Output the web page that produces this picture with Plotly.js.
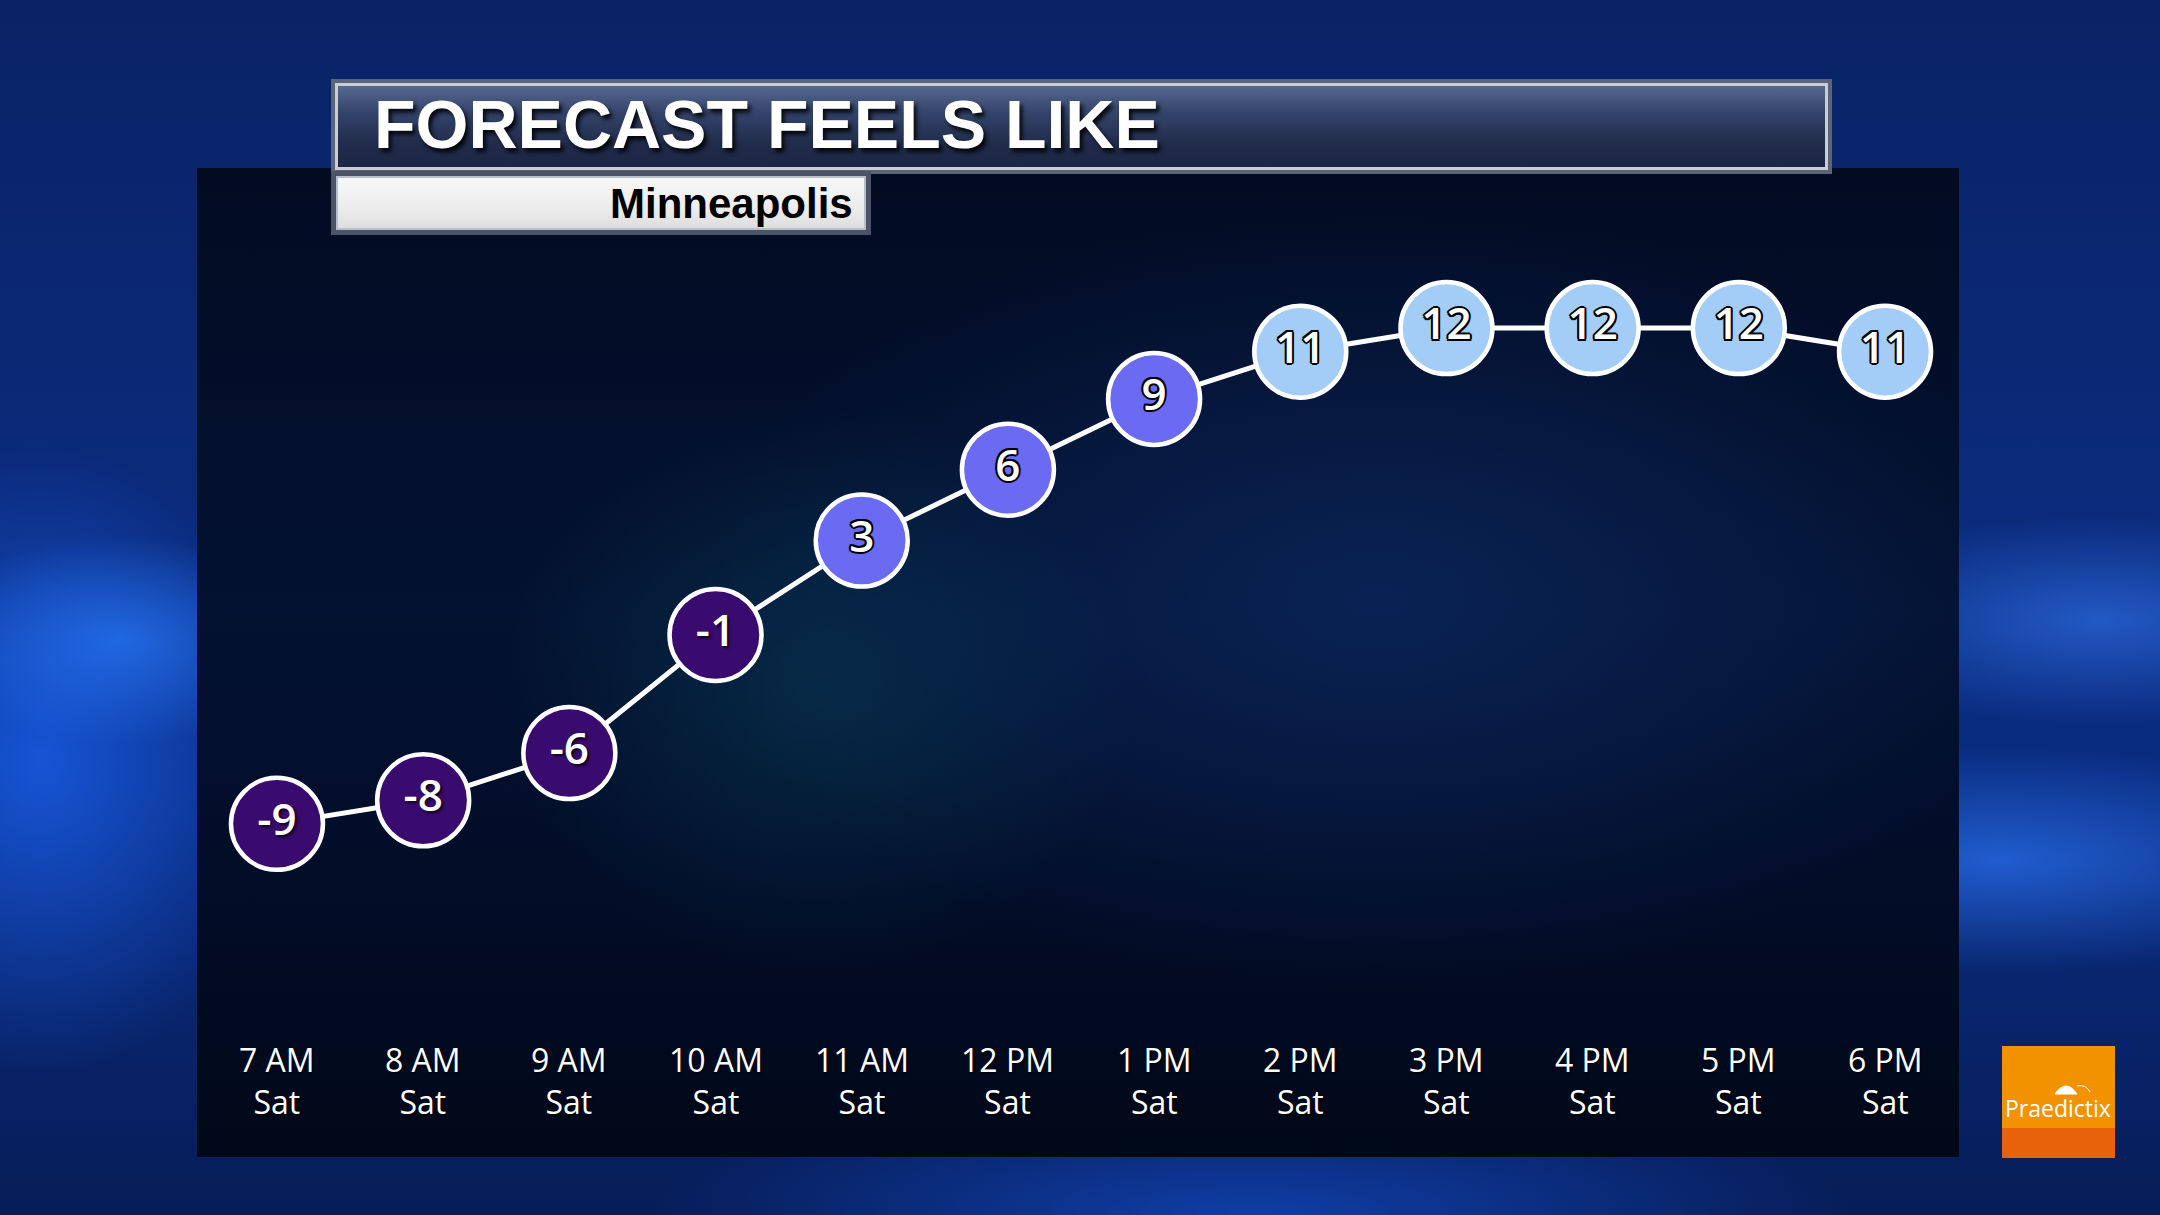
<!DOCTYPE html>
<html>
<head>
<meta charset="utf-8">
<script src="https://cdn.plot.ly/plotly-3.0.1.min.js"></script>
<style>
html,body{margin:0;padding:0;width:2160px;height:1215px;overflow:hidden;background:#0a2a78;}
#bg{position:absolute;left:0;top:0;width:2160px;height:1215px;background:
 radial-gradient(ellipse 520px 150px at 2000px 860px, rgba(40,110,235,0.75), rgba(40,110,235,0) 75%),
 radial-gradient(ellipse 420px 140px at 2100px 620px, rgba(50,120,245,0.6), rgba(50,120,245,0) 75%),
 radial-gradient(ellipse 260px 140px at 120px 640px, rgba(40,120,250,0.7), rgba(40,120,250,0) 75%),
 radial-gradient(ellipse 330px 420px at 40px 760px, rgba(25,95,235,0.8), rgba(25,95,235,0) 75%),
 radial-gradient(ellipse 800px 160px at 1250px 1215px, rgba(20,80,210,0.65), rgba(20,80,210,0) 75%),
 linear-gradient(180deg,#0a2366 0%,#0b2a7a 40%,#0a2c80 65%,#071d58 100%);}
#panel{position:absolute;left:197px;top:168px;width:1762px;height:989px;background:
 radial-gradient(ellipse 420px 380px at 620px 520px, rgba(10,70,95,0.45), rgba(10,70,95,0) 75%),
 radial-gradient(ellipse 900px 520px at 1180px 430px, rgba(12,40,95,0.75), rgba(12,40,95,0) 75%),
 linear-gradient(180deg,#020b22 0%,#031232 45%,#020c26 75%,#010818 100%);}
#titlebox{position:absolute;left:331px;top:79px;width:1501px;height:95px;box-sizing:border-box;
 border:4px solid #5b6579;box-shadow:inset 0 0 0 3px #c9cdd6;
 background:linear-gradient(180deg,#5a6c94 0%,#33436a 35%,#212c4c 70%,#1b2543 100%);}
#citybox{position:absolute;left:331px;top:171px;width:540px;height:64px;box-sizing:border-box;
 border:5px solid #4b5467;box-shadow:inset 0 0 0 2px #b9bec8;
 background:linear-gradient(180deg,#f8f8f8 0%,#ececec 60%,#dcdcdc 100%);}
#chart{position:absolute;left:0;top:0;width:2160px;height:1215px;}
</style>
</head>
<body>
<div id="bg"></div>
<div id="panel"></div>
<div id="titlebox"></div>
<div id="citybox"></div>
<div id="chart"></div>
<script>
// ---- data ----
const hours = ['7 AM','8 AM','9 AM','10 AM','11 AM','12 PM','1 PM','2 PM','3 PM','4 PM','5 PM','6 PM'];
const days = ['Sat','Sat','Sat','Sat','Sat','Sat','Sat','Sat','Sat','Sat','Sat','Sat'];
const feelsLike = [-9,-8,-6,-1,3,6,9,11,12,12,12,11];
const titleText = 'FORECAST FEELS LIKE';
const cityText = 'Minneapolis';
const brandText = 'Praedictix';

// ---- layout helpers ----
const W = 2160, H = 1215;
const px = x => x / W;
const py = y => 1 - y / H;

const outline = '-2px 0 0 #000, 2px 0 0 #000, 0 -2px 0 #000, 0 2px 0 #000, -1.5px -1.5px 0 #000, 1.5px -1.5px 0 #000, -1.5px 1.5px 0 #000, 1.5px 1.5px 0 #000';
const bands = [
  {test: v => v < 0, fill: '#3a0b6e', shadow: '2px 2px 3px rgba(0,0,0,0.75)'},
  {test: v => v >= 0 && v < 10, fill: '#6b6af2', shadow: outline},
  {test: v => v >= 10, fill: '#a3cdf7', shadow: outline}
];

const traces = [{
  type: 'scatter', mode: 'lines',
  x: hours, y: feelsLike,
  line: {color: '#ffffff', width: 5},
  hoverinfo: 'skip', showlegend: false, cliponaxis: false
}];

bands.forEach(b => {
  const idx = feelsLike.map((v, i) => b.test(v) ? i : -1).filter(i => i >= 0);
  traces.push({
    type: 'scatter', mode: 'markers+text',
    x: idx.map(i => hours[i]),
    y: idx.map(i => feelsLike[i]),
    text: idx.map(i => String(feelsLike[i])),
    textposition: 'middle center',
    textfont: {family: 'Open Sans, Noto Sans, sans-serif', size: 44, color: '#ffffff', weight: 600, shadow: b.shadow},
    marker: {size: 92, color: b.fill, line: {color: '#ffffff', width: 4.5}},
    hoverinfo: 'skip', showlegend: false, cliponaxis: false
  });
});

const annotations = [];
annotations.push({
  text: titleText, xref: 'paper', yref: 'paper', x: px(372), y: py(124),
  xanchor: 'left', yanchor: 'middle', showarrow: false,
  font: {family: 'Liberation Sans, Arial, sans-serif', size: 68, color: '#ffffff', weight: 700,
         shadow: '3px 4px 4px rgba(0,0,0,0.85)'}
});
annotations.push({
  text: cityText, xref: 'paper', yref: 'paper', x: px(855), y: py(204),
  xanchor: 'right', yanchor: 'middle', showarrow: false,
  font: {family: 'Liberation Sans, Arial, sans-serif', size: 42, color: '#000000', weight: 700}
});
hours.forEach((h, i) => {
  annotations.push({
    text: h + '<br>' + days[i], xref: 'x', yref: 'paper', x: h, y: py(1080),
    xanchor: 'center', yanchor: 'middle', align: 'center', showarrow: false,
    font: {family: 'Open Sans, Noto Sans, sans-serif', size: 32, color: '#ffffff',
           shadow: '1px 1px 2px rgba(0,0,0,0.8)'}
  });
});
annotations.push({
  text: brandText, xref: 'paper', yref: 'paper', x: px(2058), y: py(1108),
  xanchor: 'center', yanchor: 'middle', showarrow: false,
  font: {family: 'Open Sans, Noto Sans, sans-serif', size: 23, color: '#ffffff'}
});

const shapes = [
  {type: 'rect', xref: 'paper', yref: 'paper', x0: px(2002), x1: px(2115), y0: py(1046), y1: py(1128),
   fillcolor: '#f39200', line: {width: 0}, layer: 'below'},
  {type: 'rect', xref: 'paper', yref: 'paper', x0: px(2002), x1: px(2115), y0: py(1128), y1: py(1158),
   fillcolor: '#e7620b', line: {width: 0}, layer: 'below'},
  {type: 'path', xref: 'paper', yref: 'paper',
   path: `M ${px(2055)} ${py(1094)} Q ${px(2066)} ${py(1078)} ${px(2077)} ${py(1094)} Z`,
   fillcolor: '#ffffff', line: {color: '#ffffff', width: 1}, layer: 'above'},
  {type: 'path', xref: 'paper', yref: 'paper',
   path: `M ${px(2077)} ${py(1086)} Q ${px(2086)} ${py(1084)} ${px(2090)} ${py(1092)}`,
   line: {color: '#ffffff', width: 1}, layer: 'above'}
];

const layout = {
  width: W, height: H,
  margin: {l: 0, r: 0, t: 0, b: 0},
  paper_bgcolor: 'rgba(0,0,0,0)', plot_bgcolor: 'rgba(0,0,0,0)',
  xaxis: {type: 'category', categoryorder: 'array', categoryarray: hours,
          domain: [px(197), px(1959)], range: [-0.547, 11.506],
          showgrid: false, zeroline: false, showticklabels: false, showline: false, fixedrange: true},
  yaxis: {domain: [py(1157), py(168)], range: [-23.11, 18.78],
          showgrid: false, zeroline: false, showticklabels: false, showline: false, fixedrange: true},
  annotations: annotations,
  shapes: shapes,
  showlegend: false,
  hovermode: false
};

Plotly.newPlot('chart', traces, layout, {displayModeBar: false, staticPlot: true});
</script>
</body>
</html>
